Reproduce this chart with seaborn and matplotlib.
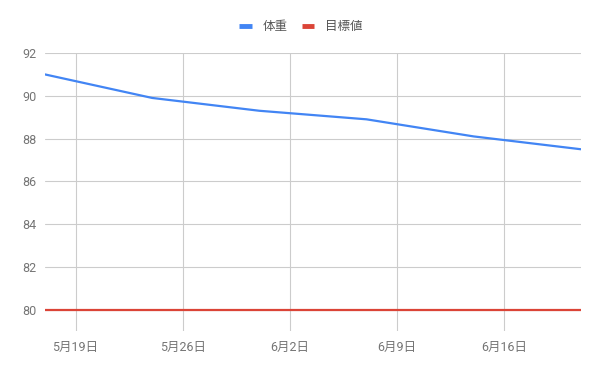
import seaborn as sns
import pandas as pd
import matplotlib
matplotlib.use("Agg")
import matplotlib.pyplot as plt
import matplotlib.dates as mdates

dates = ["2019-05-17", "2019-05-24", "2019-05-31", "2019-06-07", "2019-06-14", "2019-06-21"]
weight = [91.0, 89.9, 89.3, 88.9, 88.1, 87.5]
target = [80, 80, 80, 80, 80, 80]
tick_dates = ["2019-05-19", "2019-05-26", "2019-06-02", "2019-06-09", "2019-06-16"]
y_ticks = [80, 82, 84, 86, 88, 90, 92]

sns.set_theme(style="white")
plt.rcParams['font.family'] = ['Roboto', 'Noto Sans CJK JP', 'DejaVu Sans']

data = []
for d, w, t in zip(dates, weight, target):
    data.append([pd.Timestamp(d), w, "体重"])
    data.append([pd.Timestamp(d), t, "目標値"])
df = pd.DataFrame(data, columns=["日付", "値", "系列"])

fig = plt.figure(figsize=(6, 3.71), dpi=100)
ax = fig.add_axes([0.075, 0.108, 0.893, 0.749])
sns.lineplot(data=df, x="日付", y="値", hue="系列",
             palette={"体重": "#4285F4", "目標値": "#DB4437"},
             linewidth=1.6, ax=ax)

ax.set_xlim(pd.Timestamp(dates[0]), pd.Timestamp(dates[-1]))
ax.set_ylim(79, 92)
ax.set_yticks(y_ticks)
ax.set_xticks([pd.Timestamp(t) for t in tick_dates])
ax.xaxis.set_major_formatter(mdates.DateFormatter("%-m月%-d日"))
ax.set_xlabel("")
ax.set_ylabel("")
ax.grid(True, color="#cccccc", linewidth=0.8)
ax.tick_params(axis="both", length=0, labelsize=9, colors="#757575")
ax.tick_params(axis="x", pad=7)
ax.tick_params(axis="y", pad=6)
for s in ax.spines.values():
    s.set_visible(False)

leg = ax.legend(loc="lower center", bbox_to_anchor=(0.478, 1.03), ncol=2,
                frameon=False, fontsize=9, handlelength=1.0,
                columnspacing=1.1, handletextpad=0.9)
for line in leg.get_lines():
    line.set_linewidth(3.5)
    line.set_solid_capstyle("butt")
for txt in leg.get_texts():
    txt.set_color("#555555")

fig.savefig("out.png", dpi=100)
